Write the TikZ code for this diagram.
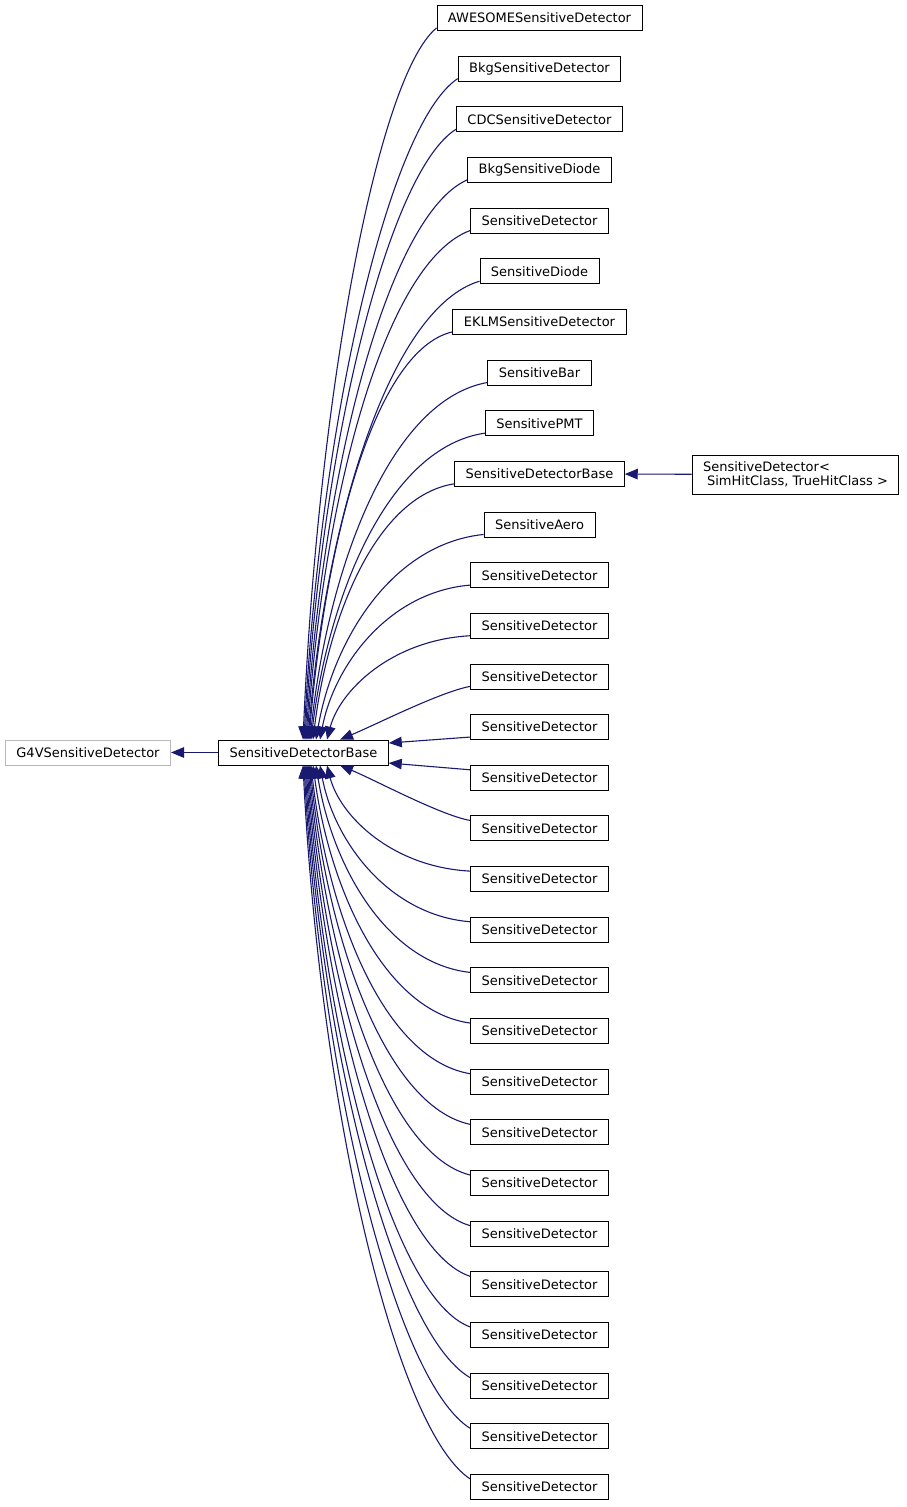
\documentclass[tikz,border=0pt]{standalone}
\usepackage{fontspec}
\setmainfont{DejaVu Sans}
\usetikzlibrary{arrows.meta}
\definecolor{midnight}{HTML}{191970}

\begin{document}
\begin{tikzpicture}[x=1pt,y=-1pt,font=\fontsize{13}{14}\selectfont,
 cls/.style={draw=black,line width=.9pt,fill=white,inner xsep=11pt,inner ysep=0pt,minimum height=25pt},
 extcls/.style={cls,draw=black!28},
 inh/.style={-{Triangle[length=13pt,width=10.5pt]},midnight,line width=1.1pt}]
\useasboundingbox (0,0) rectangle (907,1507);
\node[extcls] (g4v) at (88,752.5) {G4VSensitiveDetector};
\node[cls] (base) at (303.5,752.5) {SensitiveDetectorBase};
\node[cls] (awesome) at (539.5,18) {AWESOMESensitiveDetector};
\node[cls] (bkg) at (539.5,68.65) {BkgSensitiveDetector};
\node[cls] (cdc) at (539.5,119.3) {CDCSensitiveDetector};
\node[cls] (bkgdiode) at (539.5,169.95) {BkgSensitiveDiode};
\node[cls] (sd0) at (539.5,220.6) {SensitiveDetector};
\node[cls] (diode) at (539.5,271.25) {SensitiveDiode};
\node[cls] (eklm) at (539.5,321.9) {EKLMSensitiveDetector};
\node[cls] (bar) at (539.5,372.55) {SensitiveBar};
\node[cls] (pmt) at (539.5,423.2) {SensitivePMT};
\node[cls] (sdbase) at (539.5,473.85) {SensitiveDetectorBase};
\node[cls] (aero) at (539.5,524.5) {SensitiveAero};
\node[cls] (sd1) at (539.5,575.15) {SensitiveDetector};
\node[cls] (sd2) at (539.5,625.8) {SensitiveDetector};
\node[cls] (sd3) at (539.5,676.45) {SensitiveDetector};
\node[cls] (sd4) at (539.5,727.1) {SensitiveDetector};
\node[cls] (sd5) at (539.5,777.75) {SensitiveDetector};
\node[cls] (sd6) at (539.5,828.4) {SensitiveDetector};
\node[cls] (sd7) at (539.5,879.05) {SensitiveDetector};
\node[cls] (sd8) at (539.5,929.7) {SensitiveDetector};
\node[cls] (sd9) at (539.5,980.35) {SensitiveDetector};
\node[cls] (sd10) at (539.5,1031) {SensitiveDetector};
\node[cls] (sd11) at (539.5,1081.65) {SensitiveDetector};
\node[cls] (sd12) at (539.5,1132.3) {SensitiveDetector};
\node[cls] (sd13) at (539.5,1182.95) {SensitiveDetector};
\node[cls] (sd14) at (539.5,1233.6) {SensitiveDetector};
\node[cls] (sd15) at (539.5,1284.25) {SensitiveDetector};
\node[cls] (sd16) at (539.5,1334.9) {SensitiveDetector};
\node[cls] (sd17) at (539.5,1385.55) {SensitiveDetector};
\node[cls] (sd18) at (539.5,1436.2) {SensitiveDetector};
\node[cls] (sd19) at (539.5,1486.85) {SensitiveDetector};
\node[cls,align=left,minimum height=39pt] (tmpl) at (795.5,474.5) {SensitiveDetector<\\\hspace*{4pt}SimHitClass, TrueHitClass >};
% base class links
\draw[inh] (base) -- (g4v);
\draw[inh] (tmpl) -- (sdbase);
% upper children
\draw[inh] ([yshift=3pt]awesome.south west) .. controls (377,77) and (318,398) .. ([xshift=-0.5pt]base.north);
\draw[inh] ([yshift=3pt]bkg.south west) .. controls (389,124) and (320,422) .. ([xshift=0.5pt]base.north);
\draw[inh] ([yshift=3pt]cdc.south west) .. controls (388,172) and (321,447) .. ([xshift=1.5pt]base.north);
\draw[inh] ([yshift=3pt]bkgdiode.south west) .. controls (388,215) and (323,471) .. ([xshift=2.5pt]base.north);
\draw[inh] ([yshift=3pt]sd0.south west) .. controls (385,262) and (324,495) .. ([xshift=3.5pt]base.north);
\draw[inh] ([yshift=3pt]diode.south west) .. controls (390,308) and (326,520) .. ([xshift=4.5pt]base.north);
\draw[inh] ([yshift=3pt]eklm.south west) .. controls (374,350) and (325,544) .. ([xshift=5.5pt]base.north);
\draw[inh] ([yshift=3pt]bar.south west) .. controls (390,400) and (328,568) .. ([xshift=6.5pt]base.north);
\draw[inh] ([yshift=3pt]pmt.south west) .. controls (389,447) and (329,593) .. ([xshift=7.5pt]base.north);
\draw[inh] ([yshift=3pt]sdbase.south west) .. controls (376,496) and (328,617) .. ([xshift=9.5pt]base.north);
\draw[inh] ([yshift=3pt]aero.south west) .. controls (391,544) and (333,641) .. ([xshift=12.5pt]base.north);
\draw[inh] ([yshift=3pt]sd1.south west) .. controls (388,592) and (334,666) .. ([xshift=16.5pt]base.north);
\draw[inh] ([yshift=3pt]sd2.south west) .. controls (392,640) and (340,690) .. ([xshift=23.5pt]base.north);
\draw[inh] ([yshift=3pt]sd3.south west) .. controls (440,692) and (375,725) .. ([xshift=36.5pt]base.north);
% side children
\draw[inh] ([yshift=3pt]sd4.south west) -- ([yshift=9.5pt]base.east);
\draw[inh] ([yshift=-5pt]sd5.north west) -- ([yshift=-10.5pt]base.east);
% lower children
\draw[inh] ([yshift=-5pt]sd6.north west) .. controls (440,815) and (375,780) .. ([xshift=36.5pt]base.south);
\draw[inh] ([yshift=-5pt]sd7.north west) .. controls (392,867) and (340,816) .. ([xshift=23.5pt]base.south);
\draw[inh] ([yshift=-5pt]sd8.north west) .. controls (388,915) and (334,840.5) .. ([xshift=16.5pt]base.south);
\draw[inh] ([yshift=-5pt]sd9.north west) .. controls (386,963) and (332,864.8) .. ([xshift=12.5pt]base.south);
\draw[inh] ([yshift=-5pt]sd10.north west) .. controls (384,1011) and (329.6,889) .. ([xshift=9.5pt]base.south);
\draw[inh] ([yshift=-5pt]sd11.north west) .. controls (383,1059) and (327.8,913.4) .. ([xshift=7.5pt]base.south);
\draw[inh] ([yshift=-5pt]sd12.north west) .. controls (385,1106) and (326.9,937.7) .. ([xshift=6.5pt]base.south);
\draw[inh] ([yshift=-5pt]sd13.north west) .. controls (386,1154) and (326,962) .. ([xshift=5.5pt]base.south);
\draw[inh] ([yshift=-5pt]sd14.north west) .. controls (388,1202) and (325,986.3) .. ([xshift=4.5pt]base.south);
\draw[inh] ([yshift=-5pt]sd15.north west) .. controls (391,1250) and (324.1,1010.6) .. ([xshift=3.5pt]base.south);
\draw[inh] ([yshift=-5pt]sd16.north west) .. controls (392,1298) and (323.2,1035) .. ([xshift=2.5pt]base.south);
\draw[inh] ([yshift=-5pt]sd17.north west) .. controls (396,1335) and (322.3,1059.2) .. ([xshift=1.5pt]base.south);
\draw[inh] ([yshift=-5pt]sd18.north west) .. controls (396,1382) and (321.4,1083.6) .. ([xshift=0.5pt]base.south);
\draw[inh] ([yshift=-5pt]sd19.north west) .. controls (395,1429) and (320.4,1107.9) .. ([xshift=-0.5pt]base.south);
\end{tikzpicture}
\end{document}
